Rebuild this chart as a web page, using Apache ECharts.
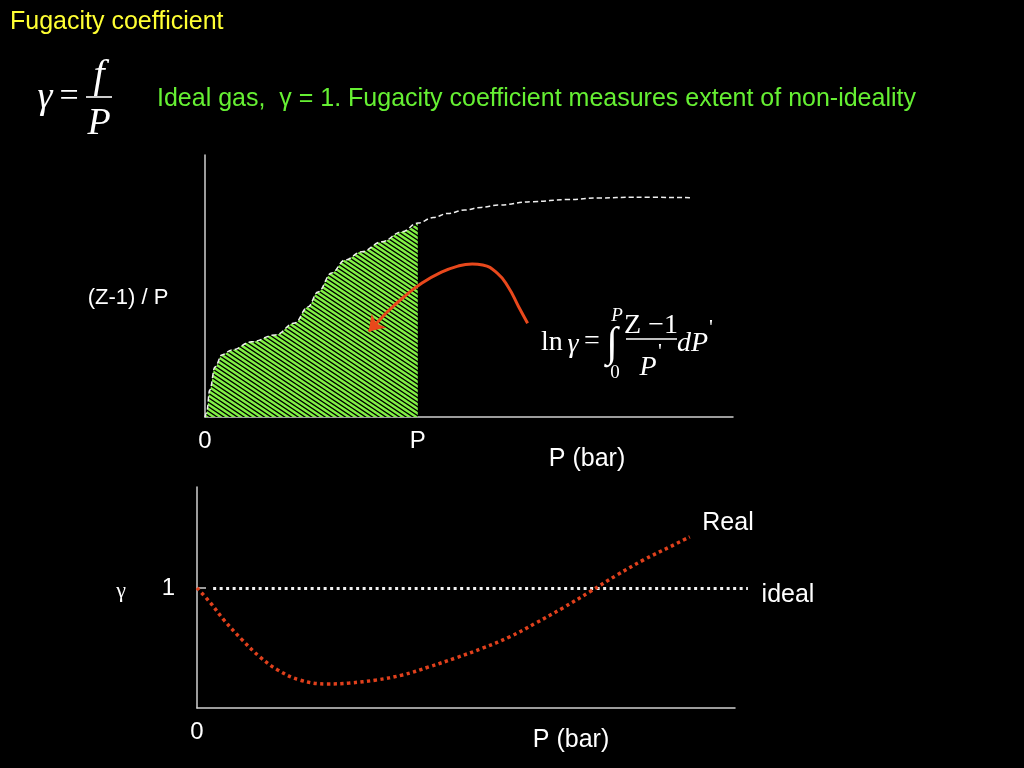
<!DOCTYPE html>
<html>
<head>
<meta charset="utf-8">
<title>Fugacity coefficient</title>
<script src="https://cdn.jsdelivr.net/npm/echarts@6/dist/echarts.min.js"></script>
<style>
  html, body { margin: 0; padding: 0; background: #000; }
  #chart { width: 1024px; height: 768px; }
</style>
</head>
<body>
<div id="chart"></div>
<script>
// (Z-1)/P against pressure (x: 0..100, y: 0..100 arbitrary units)
var zCurveP = [0, 0.3, 0.9, 1.9, 3.2, 5.1, 8.8, 13.3, 17.0, 19.5, 21.4, 24.0, 26.5, 29.7, 33.5, 37.3, 40.3,
               43.2, 46.0, 49.2, 52.3, 55.5, 62.1, 68.5, 74.8, 81.1, 92.2];
var zCurveY = [0, 1.5, 10.3, 19.1, 23.7, 25.6, 28.7, 31.3, 35.9, 42.0, 47.7, 55.0, 59.9, 63.1, 66.9, 70.7, 74.0,
               76.1, 77.7, 79.0, 80.0, 80.9, 82.2, 83.0, 83.6, 83.9, 83.7];
var upperP = 40.3;   // the "P" of the integral

// arrow pointing into the shaded area
var arrowX = [61.1, 59.4, 57.4, 55.3, 52.6, 50.6, 47.9, 44.5, 41.1, 37.7, 34.3];
var arrowY = [35.8, 42.1, 49.7, 55.0, 58.0, 58.4, 57.6, 55.0, 51.1, 45.9, 39.7];
var arrowTip = [31.0, 32.6];

// fugacity coefficient gamma against pressure
var realP = [0, 2.5, 5.0, 8.4, 11.7, 15.0, 19.1, 24.2, 28.3, 33.3, 38.2, 43.1, 48.1, 53.2, 58.1, 63.0, 68.0,
             73.0, 78.1, 83.0, 87.9, 91.6];
var realGamma = [1.0, 0.875, 0.733, 0.567, 0.425, 0.317, 0.233, 0.2, 0.208, 0.233, 0.275, 0.342, 0.417, 0.5,
                 0.592, 0.708, 0.833, 0.967, 1.108, 1.233, 1.342, 1.425];
var idealP = [3.0, 102.4];
var idealGamma = [1, 1];

function pairs(xs, ys) {
  return xs.map(function (x, i) { return [x, ys[i]]; });
}

// green / black stripes, falling left to right (slope 2/3, 6.75px apart horizontally)
function makeHatch() {
  var w = 27, h = 9, step = 6.75;
  var c = document.createElement('canvas');
  c.width = w; c.height = h;
  var g = c.getContext('2d');
  g.fillStyle = '#000';
  g.fillRect(0, 0, w, h);
  g.strokeStyle = '#82f244';
  g.lineWidth = 2.4;
  g.beginPath();
  for (var k = -4; k <= 6; k++) {
    var x0 = k * step;
    g.moveTo(x0 - 1.5 * h, -h);
    g.lineTo(x0 + 3 * h, 2 * h);
  }
  g.stroke();
  return c;
}

function run() {
  var chart = echarts.init(document.getElementById('chart'));
  var sans = '"Liberation Sans", Arial, sans-serif';
  var serif = '"Liberation Serif", "Times New Roman", serif';
  var axisLine = { show: true, lineStyle: { color: '#d0d0d0', width: 1.5 } };

  var all = pairs(zCurveP, zCurveY);
  var shaded = all.filter(function (d) { return d[0] <= upperP; });
  var arrowBody = pairs(arrowX, arrowY);

  function txt(x, y, text, size, color, extra) {
    var st = { text: text, fill: color || '#fff', font: (size || 24) + 'px ' + sans,
               textAlign: 'center', textVerticalAlign: 'middle' };
    if (extra) for (var k in extra) st[k] = extra[k];
    return { type: 'text', x: x, y: y, style: st };
  }
  function ser(x, y, text, size, italic, align) {
    return { type: 'text', x: x, y: y, style: {
      text: text, fill: '#fff', font: (italic ? 'italic ' : '') + size + 'px ' + serif,
      textAlign: align || 'center', textVerticalAlign: 'middle' } };
  }
  function bar(x1, x2, y) {
    return { type: 'line', shape: { x1: x1, y1: y, x2: x2, y2: y }, style: { stroke: '#fff', lineWidth: 1.6 } };
  }

  var option = {
    backgroundColor: '#000',
    animation: false,
    grid: [
      { left: 205, top: 155, width: 528, height: 262 },
      { left: 197, top: 487, width: 538, height: 221 }
    ],
    xAxis: [
      { gridIndex: 0, type: 'value', min: 0, max: 100, axisLine: axisLine, splitLine: { show: false },
        axisTick: { show: false },
        axisLabel: { customValues: [0, upperP], margin: 12, color: '#fff', fontSize: 24, fontFamily: sans,
          formatter: function (v) { return v === 0 ? '0' : 'P'; } } },
      { gridIndex: 1, type: 'value', min: 0, max: 100, axisLine: axisLine, splitLine: { show: false },
        axisTick: { show: false },
        axisLabel: { customValues: [0], margin: 12, color: '#fff', fontSize: 24, fontFamily: sans } }
    ],
    yAxis: [
      { gridIndex: 0, type: 'value', min: 0, max: 100, axisLine: axisLine, splitLine: { show: false },
        axisTick: { show: false }, axisLabel: { show: false } },
      { gridIndex: 1, type: 'value', min: 0, max: 1.84, axisLine: axisLine, splitLine: { show: false },
        axisTick: { show: true, customValues: [1], inside: true, length: 9, lineStyle: { color: '#d0d0d0', width: 1.5 } },
        axisLabel: { customValues: [1], margin: 22, color: '#fff', fontSize: 24, fontFamily: sans } }
    ],
    series: [
      { name: 'area', type: 'line', xAxisIndex: 0, yAxisIndex: 0, data: shaded, smooth: 0.4, smoothMonotone: 'x',
        showSymbol: false, lineStyle: { width: 0, opacity: 0 },
        areaStyle: { color: { image: makeHatch(), repeat: 'repeat' }, opacity: 1 }, z: 2 },
      { name: '(Z-1)/P', type: 'line', xAxisIndex: 0, yAxisIndex: 0, data: all, smooth: 0.4, smoothMonotone: 'x',
        showSymbol: false, lineStyle: { color: '#f0f0f0', width: 1.5, type: [5, 3] }, z: 3 },
      { name: 'arrow', type: 'line', xAxisIndex: 0, yAxisIndex: 0, data: arrowBody, smooth: 0.5,
        showSymbol: false, lineStyle: { color: '#e8481c', width: 3 }, z: 4 },
      { name: 'arrowHead', type: 'lines', coordinateSystem: 'cartesian2d', xAxisIndex: 0, yAxisIndex: 0,
        data: [{ coords: [arrowBody[arrowBody.length - 1], arrowTip] }],
        symbol: ['none', 'arrow'], symbolSize: 15,
        lineStyle: { color: '#e8481c', width: 3, opacity: 1 }, z: 4 },
      { name: 'ideal', type: 'lines', coordinateSystem: 'cartesian2d', xAxisIndex: 1, yAxisIndex: 1, clip: false,
        data: [{ coords: pairs(idealP, idealGamma) }],
        lineStyle: { color: '#f0f0f0', width: 3, type: [3, 3.5], opacity: 1 } },
      { name: 'Real', type: 'line', xAxisIndex: 1, yAxisIndex: 1, data: pairs(realP, realGamma), smooth: 0.4,
        showSymbol: false, lineStyle: { color: '#e0401c', width: 3.5, type: [3.3, 3.4] } }
    ],
    graphic: [
      txt(10, 22, 'Fugacity coefficient', 25, '#ffff33', { textAlign: 'left' }),
      txt(157, 99, 'Ideal gas,  \u03b3 = 1. Fugacity coefficient measures extent of non-ideality', 25, '#66f033',
          { textAlign: 'left' }),
      // gamma = f / P
      ser(45, 98, '\u03b3', 38, true),
      ser(69, 97, '=', 34, false),
      ser(99, 76, 'f', 40, true),
      bar(86, 112, 97),
      ser(99, 124, 'P', 38, true),
      // axis names
      txt(128, 298, '(Z-1) / P', 22),
      txt(587, 459, 'P (bar)', 25),
      txt(121, 591, '\u03b3', 22, '#fff', { font: '22px ' + serif }),
      txt(728, 523, 'Real', 25),
      txt(788, 595, 'ideal', 25),
      txt(571, 740, 'P (bar)', 25),
      // ln gamma = integral
      ser(541, 343, 'ln', 28, false, 'left'),
      ser(573, 345, '\u03b3', 28, true),
      ser(592, 342, '=', 28, false),
      ser(612, 345, '\u222b', 42, false),
      ser(617, 316, 'P', 19, true),
      ser(615, 373, '0', 19, false),
      ser(651, 326, 'Z \u22121', 28, false),
      bar(626, 677, 339),
      ser(648, 368, 'P', 28, true),
      ser(660, 352, '\'', 22, false),
      ser(677, 344, 'dP', 28, true, 'left'),
      ser(711, 328, '\'', 22, false)
    ]
  };
  chart.setOption(option);
}

if (document.readyState !== 'loading') {
  run();
} else {
  document.addEventListener('DOMContentLoaded', run);
}
</script>
</body>
</html>
